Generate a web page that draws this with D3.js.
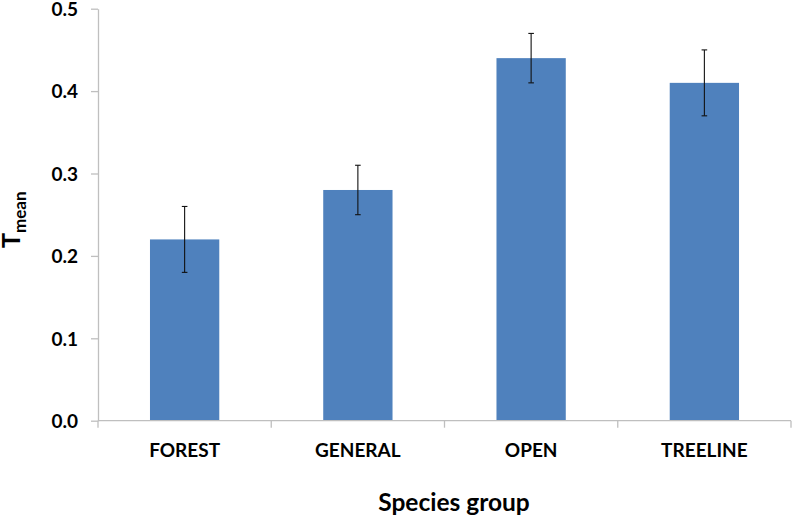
<!DOCTYPE html>
<html><head><meta charset="utf-8">
<script src="https://cdn.jsdelivr.net/npm/d3@7"></script>
<style>
body{margin:0;background:#fff;}
text{font-family:Lato,"Open Sans",sans-serif;font-weight:bold;fill:#000;}
</style></head>
<body><svg id="c" width="792" height="518"></svg>
<script>
const categories = ["FOREST","GENERAL","OPEN","TREELINE"];
const means = [0.22,0.28,0.44,0.41];
const errLow = [0.18,0.25,0.41,0.37];
const errHigh = [0.26,0.31,0.47,0.45];
const yTicks = [0,0.1,0.2,0.3,0.4,0.5];

const svg = d3.select("#c");
const x = d3.scaleBand().domain(categories).range([98,791]).paddingInner(0.6).paddingOuter(0.3);
const y = d3.scaleLinear().domain([0,0.5]).range([420.7,8.7]);

// bars
svg.selectAll("rect.bar").data(categories).enter().append("rect")
  .attr("x",d=>x(d)).attr("width",x.bandwidth())
  .attr("y",(d,i)=>y(means[i])).attr("height",(d,i)=>y(0)-y(means[i]))
  .attr("fill","#4F81BD");

// axes
const axisColor="#BFBFBF";
const yAxis = svg.append("g").attr("transform","translate(98,0)")
  .call(d3.axisLeft(y).tickValues(yTicks).tickFormat(d3.format(".1f")).tickSize(7).tickSizeOuter(0).tickPadding(13));
yAxis.select(".domain").attr("stroke",axisColor).attr("stroke-width",1.3);
yAxis.selectAll(".tick line").attr("stroke",axisColor).attr("stroke-width",1.3);
yAxis.selectAll(".tick text").style("font-size","19px").attr("dy","0.36em");

// x axis line + boundary ticks
const xg = svg.append("g").attr("transform",`translate(0,${y(0)})`);
xg.append("line").attr("x1",98).attr("x2",791).attr("stroke",axisColor).attr("stroke-width",1.3);
const half = x.step()*x.paddingInner()/2;
const bounds = categories.map(c=>x(c)-half).concat([x(categories[categories.length-1])+x.bandwidth()+half]);
xg.selectAll("line.t").data(bounds).enter().append("line")
  .attr("x1",d=>d).attr("x2",d=>d).attr("y1",0).attr("y2",7).attr("stroke",axisColor).attr("stroke-width",1.3);
xg.selectAll("text.cat").data(categories).enter().append("text")
  .attr("x",d=>x(d)+x.bandwidth()/2).attr("y",36).attr("text-anchor","middle")
  .style("font-size","19px").text(d=>d);

// error bars
const eg = svg.append("g").attr("stroke","#111").attr("stroke-width",1.1);
categories.forEach((c,i)=>{
  const cx = x(c)+x.bandwidth()/2;
  eg.append("line").attr("x1",cx).attr("x2",cx).attr("y1",y(errLow[i])).attr("y2",y(errHigh[i]));
  eg.append("line").attr("x1",cx-2.8).attr("x2",cx+2.8).attr("y1",y(errLow[i])).attr("y2",y(errLow[i]));
  eg.append("line").attr("x1",cx-2.8).attr("x2",cx+2.8).attr("y1",y(errHigh[i])).attr("y2",y(errHigh[i]));
});

// titles
svg.append("text").attr("x",454).attr("y",511).attr("text-anchor","middle").style("font-size","24.5px").text("Species group");
const yt = svg.append("text").attr("transform","translate(20,248) rotate(-90)").attr("text-anchor","start");
yt.append("tspan").style("font-size","25px").text("T");
yt.append("tspan").style("font-size","17px").attr("dy","6").text("mean");
</script></body></html>
